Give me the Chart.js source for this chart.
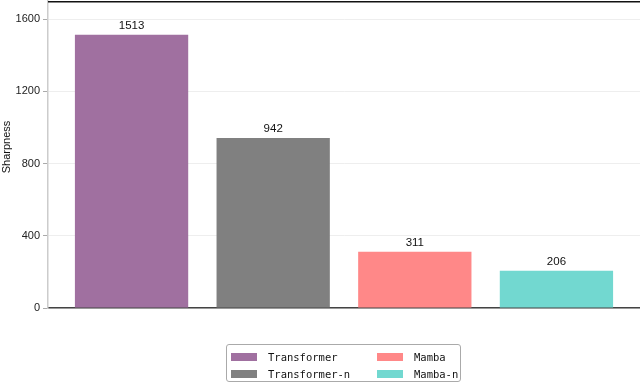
<!DOCTYPE html>
<html>
<head>
<meta charset="utf-8">
<script src="https://cdn.jsdelivr.net/npm/chart.js@4/dist/chart.umd.min.js"></script>
<style>
  html, body { margin: 0; padding: 0; background: #fff; }
  #wrap { position: relative; width: 640px; height: 384px; }
  #c { position: absolute; left: 0; top: 0; }
  #legend { position: absolute; left: 226px; top: 344px; width: 235px; height: 38px;
            border: 1px solid #aaa; border-radius: 3px; box-sizing: border-box; background: #fff;
            font-family: "DejaVu Sans Mono", monospace; font-size: 10.5px; color: #111; }
  .item { position: absolute; height: 10px; }
  .patch { position: absolute; width: 26px; height: 8px; top: 1px; left: 0; }
  .lbl { position: absolute; left: 37px; top: -2px; white-space: nowrap; line-height: 14px; }
</style>
</head>
<body>
<div id="wrap">
  <canvas id="c" width="640" height="384"></canvas>
  <div id="legend"></div>
</div>
<script>
const categories = ["Transformer", "Transformer-n", "Mamba", "Mamba-n"];
const values = [1513, 942, 311, 206];
const colors = ["#a070a0", "#808080", "#ff8888", "#72d8d0"];
const yTicks = [0, 400, 800, 1200, 1600];
const yTitle = "Sharpness";

const datasets = categories.map((name, i) => ({
  label: name,
  data: [{ x: i, y: values[i] }],
  backgroundColor: colors[i],
  borderWidth: 0,
  grouped: false,
  barPercentage: 0.8,
  categoryPercentage: 1.0
}));

const decor = {
  id: 'decor',
  afterDraw(chart) {
    const { ctx, chartArea: a } = chart;
    ctx.save();
    ctx.strokeStyle = '#111';
    ctx.lineWidth = 1.5;
    ctx.beginPath();
    ctx.moveTo(a.left, a.top + 0.75);
    ctx.lineTo(a.right, a.top + 0.75);
    ctx.stroke();
    ctx.fillStyle = '#111';
    ctx.font = '11px "Liberation Sans", Arial, sans-serif';
    ctx.textAlign = 'center';
    ctx.textBaseline = 'middle';
    ctx.translate(7, 147);
    ctx.rotate(-Math.PI / 2);
    ctx.fillText(yTitle, 0, 0);
    ctx.restore();
  },
  afterDatasetsDraw(chart) {
    const { ctx } = chart;
    ctx.save();
    ctx.fillStyle = '#111';
    ctx.font = '11.5px "Liberation Sans", Arial, sans-serif';
    ctx.textAlign = 'center';
    ctx.textBaseline = 'bottom';
    chart.data.datasets.forEach((ds, i) => {
      const meta = chart.getDatasetMeta(i);
      meta.data.forEach((bar, j) => {
        ctx.fillText(String(ds.data[j].y), bar.x, bar.y - 3);
      });
    });
    ctx.restore();
  }
};

new Chart(document.getElementById('c'), {
  type: 'bar',
  data: { datasets },
  options: {
    responsive: false,
    animation: false,
    layout: { padding: { top: 1, right: 0, left: 0, bottom: 76 } },
    plugins: { legend: { display: false }, tooltip: { enabled: false } },
    scales: {
      x: {
        type: 'linear',
        offset: false,
        min: -0.59,
        max: 3.59,
        afterBuildTicks(s) { s.ticks = categories.map((c, i) => ({ value: i })); },
        ticks: { display: false },
        grid: { display: false, drawTicks: false },
        border: { display: true, color: '#444', width: 1.5 },
        afterFit(s) { s.height = 0; s.paddingLeft = 0; s.paddingRight = 0; }
      },
      y: {
        min: 0,
        max: 1700,
        afterBuildTicks(s) { s.ticks = yTicks.map(v => ({ value: v })); },
        ticks: {
          color: '#222',
          padding: 3,
          callback: (v) => String(v),
          font: { family: '"Liberation Sans", Arial, sans-serif', size: 11 }
        },
        grid: { color: '#eeeeee', lineWidth: 1, tickColor: '#aaa', tickLength: 5 },
        border: { display: true, color: '#cccccc', width: 1.5 },
        afterFit(s) { s.width = 48; s.paddingTop = 0; s.paddingBottom = 0; }
      }
    }
  },
  plugins: [decor]
});

const legend = document.getElementById('legend');
const pos = [[4, 7], [4, 24], [150, 7], [150, 24]];
categories.forEach((name, i) => {
  const it = document.createElement('div');
  it.className = 'item';
  it.style.left = pos[i][0] + 'px';
  it.style.top = pos[i][1] + 'px';
  const p = document.createElement('div');
  p.className = 'patch';
  p.style.background = colors[i];
  const t = document.createElement('div');
  t.className = 'lbl';
  t.textContent = name;
  it.appendChild(p); it.appendChild(t);
  legend.appendChild(it);
});
</script>
</body>
</html>
